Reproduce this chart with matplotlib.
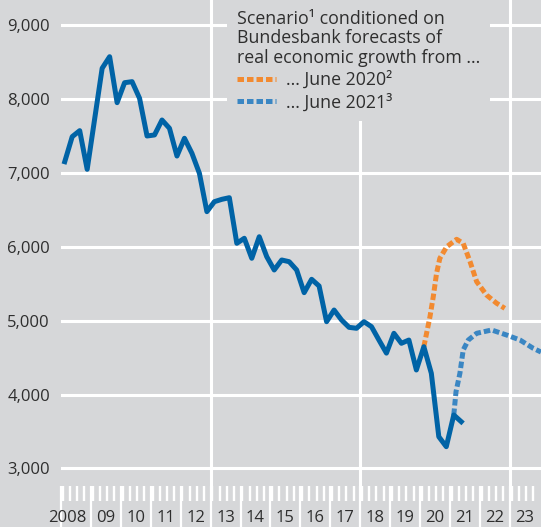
import matplotlib.pyplot as plt
import numpy as np

plt.rcParams['font.family'] = ['Open Sans', 'DejaVu Sans']

# quarterly actuals, Q1 2008 to Q2 2021
actual = [
    7150, 7489, 7570, 7047,
    7730, 8414, 8571, 7949,
    8219, 8233, 8008, 7498,
    7512, 7714, 7602, 7227,
    7467, 7264, 6993, 6474,
    6609, 6641, 6663, 6046,
    6114, 5843, 6135, 5865,
    5685, 5820, 5797, 5685,
    5378, 5559, 5468, 4985,
    5143, 5008, 4909, 4896,
    4985, 4918, 4737, 4560,
    4828, 4693, 4737, 4332,
    4647, 4287, 3429, 3294,
    3723, 3632,
]
actual_x = 2008.125 + 0.25 * np.arange(len(actual))

# scenario conditioned on June 2020 forecast
s2020_x = [2020.125, 2020.33, 2020.44, 2020.55, 2020.66, 2020.89, 2021.22,
           2021.44, 2021.67, 2021.89, 2022.22, 2022.56, 2022.83]
s2020 = [4647, 5053, 5324, 5640, 5843, 6000, 6100,
         6046, 5797, 5527, 5346, 5234, 5166]

# scenario conditioned on June 2021 forecast
s2021_x = [2021.125, 2021.2, 2021.33, 2021.44, 2021.61, 2021.89, 2022.39,
           2022.89, 2023.34, 2023.78, 2024.04]
s2021 = [3723, 4038, 4287, 4602, 4737, 4828, 4873,
         4805, 4737, 4625, 4575]

years = np.arange(2008, 2024)
year_labels = ['2008'] + ['%02d' % (y % 100) for y in years[1:]]
yticks = [3000, 4000, 5000, 6000, 7000, 8000, 9000]

bg = '#d6d7d9'
txt = '#2e2e2e'
navy = '#0063a6'
orange = '#f28a30'
lightblue = '#3a86c3'

fig = plt.figure(figsize=(5.41, 5.27), dpi=100, facecolor=bg)
ax = fig.add_axes([61 / 541, 41 / 527, 480 / 541, 486 / 527], facecolor=bg)

ax.set_xlim(2008, 2024.04)
ax.set_ylim(2762, 9338)

for s in ax.spines.values():
    s.set_visible(False)

ax.set_yticks(yticks)
ax.set_yticklabels(['{:,}'.format(v) for v in yticks])
ax.tick_params(axis='y', length=0, pad=8, labelsize=12, labelcolor=txt)
ax.yaxis.grid(True, color='white', linewidth=2.2)
ax.set_axisbelow(True)

for y in [2013, 2018, 2023]:
    ax.axvline(y, color='white', linewidth=2.2, zorder=0.5)

# year separators (major) and quarter ticks (minor)
ax.set_xticks(years)
ax.set_xticklabels([])
ax.set_xticks(np.concatenate([y + np.array([0.06, 0.3, 0.54, 0.78]) for y in years]), minor=True)
ax.tick_params(axis='x', which='major', direction='out', length=30, width=1.6, color='white')
ax.tick_params(axis='x', which='minor', direction='out', length=10.5, width=1.7, color='white')

for i, (y, lab) in enumerate(zip(years, year_labels)):
    if i == 0:
        ax.annotate(lab, xy=(y + 0.84, 0), xycoords=ax.get_xaxis_transform(),
                    xytext=(0, -23.4), textcoords='offset points',
                    ha='right', va='center', fontsize=12, color=txt)
    else:
        ax.annotate(lab, xy=(y + 0.5, 0), xycoords=ax.get_xaxis_transform(),
                    xytext=(0, -23.4), textcoords='offset points',
                    ha='center', va='center', fontsize=12, color=txt)

ax.plot(actual_x, actual, color=navy, linewidth=3.6, solid_joinstyle='round', zorder=4)
l1, = ax.plot(s2020_x, s2020, color=orange, linewidth=3.6, dashes=(1.3, 0.6),
              dash_capstyle='butt', label='... June 2020²', zorder=3)
l2, = ax.plot(s2021_x, s2021, color=lightblue, linewidth=3.6, dashes=(1.3, 0.6),
              dash_capstyle='butt', label='... June 2021³', zorder=3)

leg = ax.legend(handles=[l1, l2],
                title='Scenario¹ conditioned on\nBundesbank forecasts of\nreal economic growth from ...',
                loc='upper left', bbox_to_anchor=(166 / 480, 1.0),
                fontsize=12.8, title_fontsize=12.8, alignment='left',
                frameon=True, facecolor=bg, edgecolor='none', framealpha=1,
                fancybox=False, borderpad=0.55, handlelength=2.2, handletextpad=0.55,
                labelspacing=0.22, borderaxespad=0)
for t in leg.get_texts():
    t.set_color(txt)
leg.get_title().set_color(txt)
leg.get_title().set_linespacing(1.12)

fig.savefig('out.png', dpi=100, facecolor=bg)
